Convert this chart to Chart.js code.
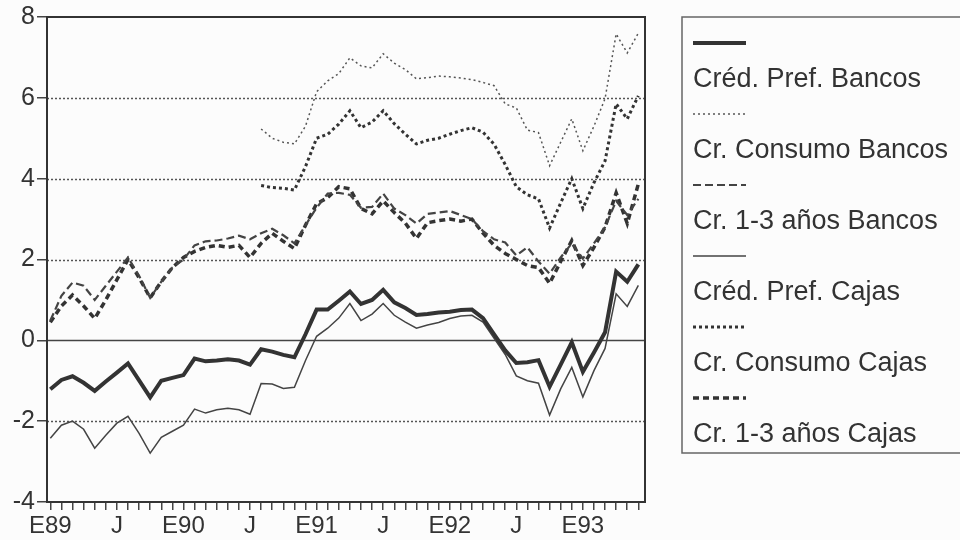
<!DOCTYPE html>
<html lang="es">
<head>
<meta charset="UTF-8" />
<title>Créditos Bancos y Cajas</title>
<script src="https://cdn.jsdelivr.net/npm/chart.js"></script>
<style>
  html, body { margin: 0; padding: 0; background: #fcfcfc; }
  #wrap { width: 960px; height: 540px; }
</style>
</head>
<body>
<div id="wrap"><canvas id="chart" width="960" height="540"></canvas></div>
<script>
// meses desde enero 1989 (0) hasta junio 1993 (53)
const months = Array.from({ length: 54 }, (_, i) => i);
const xTickLabels = ["E89", "J", "E90", "J", "E91", "J", "E92", "J", "E93"];

const prefBancos = [-1.21,-0.98,-0.89,-1.05,-1.25,-1.02,-0.8,-0.57,-0.99,-1.41,
  -1.0,-0.93,-0.86,-0.45,-0.52,-0.5,-0.47,-0.5,-0.6,-0.22,
  -0.28,-0.36,-0.42,0.15,0.76,0.76,0.98,1.21,0.9,1.0,
  1.25,0.94,0.8,0.63,0.65,0.69,0.71,0.75,0.76,0.55,
  0.15,-0.25,-0.56,-0.54,-0.49,-1.15,-0.6,-0.05,-0.78,-0.3,
  0.2,1.7,1.45,1.88];

const consumoBancos = [null,null,null,null,null,null,null,null,null,null,
  null,null,null,null,null,null,null,null,null,5.23,
  5.0,4.9,4.86,5.3,6.15,6.42,6.6,6.99,6.79,6.74,
  7.09,6.86,6.7,6.47,6.5,6.54,6.52,6.49,6.45,6.38,
  6.3,5.85,5.75,5.2,5.14,4.32,4.9,5.48,4.69,5.3,
  5.98,7.58,7.11,7.6];

const anios13Bancos = [0.49,1.1,1.43,1.35,1.0,1.35,1.7,2.05,1.6,1.05,
  1.45,1.8,2.0,2.35,2.45,2.47,2.52,2.59,2.5,2.65,
  2.76,2.6,2.4,2.85,3.28,3.63,3.65,3.6,3.28,3.3,
  3.63,3.26,3.1,2.89,3.13,3.16,3.2,3.1,3.0,2.7,
  2.5,2.42,2.1,2.3,1.95,1.65,2.05,2.4,2.02,2.4,
  2.8,3.45,3.1,3.5];

const prefCajas = [-2.42,-2.1,-2.0,-2.2,-2.67,-2.35,-2.05,-1.88,-2.3,-2.79,
  -2.4,-2.25,-2.1,-1.7,-1.8,-1.72,-1.68,-1.72,-1.83,-1.07,
  -1.08,-1.19,-1.16,-0.5,0.1,0.3,0.55,0.91,0.49,0.65,
  0.91,0.62,0.45,0.3,0.38,0.44,0.54,0.6,0.62,0.45,
  0.05,-0.35,-0.88,-1.0,-1.06,-1.85,-1.2,-0.67,-1.4,-0.75,
  -0.2,1.15,0.84,1.36];

const consumoCajas = [null,null,null,null,null,null,null,null,null,null,
  null,null,null,null,null,null,null,null,null,3.83,
  3.78,3.76,3.72,4.3,5.0,5.1,5.35,5.68,5.26,5.4,
  5.68,5.36,5.1,4.86,4.95,5.0,5.1,5.19,5.26,5.15,
  4.85,4.35,3.8,3.6,3.5,2.78,3.4,4.0,3.26,3.9,
  4.44,5.85,5.48,6.05];

const anios13Cajas = [0.45,0.85,1.12,0.85,0.54,1.0,1.5,2.0,1.55,1.05,
  1.45,1.8,2.05,2.2,2.3,2.35,2.3,2.35,2.05,2.4,
  2.65,2.45,2.27,2.85,3.38,3.53,3.8,3.75,3.26,3.13,
  3.45,3.16,2.9,2.52,2.91,2.96,3.0,2.95,3.0,2.65,
  2.35,2.15,2.0,1.85,1.8,1.41,1.95,2.47,1.85,2.3,
  2.8,3.65,2.89,3.87];

const seriesNames = ["Créd. Pref. Bancos", "Cr. Consumo Bancos", "Cr. 1-3 años Bancos",
  "Créd. Pref. Cajas", "Cr. Consumo Cajas", "Cr. 1-3 años Cajas"];

const ink = "#333";
const FONT = '"Liberation Sans", Arial, sans-serif';

function pts(arr) {
  return months.map(i => ({ x: i, y: arr[i] }));
}

function ds(label, arr, color, width, dash) {
  return {
    label: label,
    data: pts(arr),
    borderColor: color,
    borderWidth: width,
    borderDash: dash,
    pointRadius: 0,
    tension: 0,
    fill: false,
    spanGaps: false
  };
}

// rejilla punteada, línea del cero y marco del gráfico
const framePlugin = {
  id: "frame",
  beforeDatasetsDraw(chart) {
    const { ctx, chartArea: a, scales } = chart;
    ctx.save();
    ctx.strokeStyle = "#555";
    ctx.lineWidth = 1.5;
    ctx.setLineDash([2, 2]);
    [6, 4, 2, -2].forEach(v => {
      const y = Math.round(scales.y.getPixelForValue(v)) + 0.5;
      ctx.beginPath();
      ctx.moveTo(a.left, y);
      ctx.lineTo(a.right, y);
      ctx.stroke();
    });
    ctx.setLineDash([]);
    ctx.strokeStyle = "#444";
    const y0 = Math.round(scales.y.getPixelForValue(0)) + 0.5;
    ctx.beginPath();
    ctx.moveTo(a.left, y0);
    ctx.lineTo(a.right, y0);
    ctx.stroke();
    ctx.restore();
  },
  afterDatasetsDraw(chart) {
    const { ctx, chartArea: a } = chart;
    ctx.save();
    ctx.strokeStyle = ink;
    ctx.lineWidth = 2;
    ctx.strokeRect(a.left, a.top, a.right - a.left, a.bottom - a.top);
    ctx.restore();
  }
};

// leyenda en recuadro: muestra de línea encima de cada nombre
const legendPlugin = {
  id: "boxLegend",
  afterDraw(chart) {
    const ctx = chart.ctx;
    ctx.save();
    ctx.strokeStyle = "#666";
    ctx.lineWidth = 1.5;
    ctx.strokeRect(682, 17, 320, 436);
    chart.data.datasets.forEach((d, k) => {
      const ly = 43 + 71 * k;
      ctx.strokeStyle = d.borderColor;
      ctx.lineWidth = d.borderWidth;
      ctx.setLineDash(d.borderDash || []);
      ctx.beginPath();
      ctx.moveTo(693, ly);
      ctx.lineTo(746, ly);
      ctx.stroke();
      ctx.setLineDash([]);
      ctx.fillStyle = ink;
      ctx.font = "27px " + FONT;
      ctx.textBaseline = "middle";
      ctx.textAlign = "left";
      ctx.fillText(d.label, 693, 80 + 71 * k);
    });
    ctx.restore();
  }
};

new Chart(document.getElementById("chart"), {
  type: "line",
  data: {
    datasets: [
      ds(seriesNames[0], prefBancos, "#333", 4, []),
      ds(seriesNames[1], consumoBancos, "#555", 1.5, [2, 3]),
      ds(seriesNames[2], anios13Bancos, "#444", 2.2, [8, 4]),
      ds(seriesNames[3], prefCajas, "#444", 1.5, []),
      ds(seriesNames[4], consumoCajas, "#333", 3, [3, 3]),
      ds(seriesNames[5], anios13Cajas, "#333", 3.5, [6, 4])
    ]
  },
  options: {
    responsive: false,
    animation: false,
    layout: { padding: { top: 16, right: 315, left: 0, bottom: 0 } },
    plugins: { legend: { display: false }, tooltip: { enabled: false } },
    scales: {
      x: {
        type: "linear",
        min: -0.3,
        max: 53.6,
        afterBuildTicks: axis => { axis.ticks = months.map(i => ({ value: i })); },
        afterFit: axis => { axis.height = 38; },
        grid: { drawOnChartArea: false, drawTicks: true, tickLength: 8, color: "#444", lineWidth: 1.5 },
        border: { display: false },
        ticks: {
          autoSkip: false,
          maxRotation: 0,
          padding: 2,
          color: ink,
          font: { family: FONT, size: 24 },
          callback: v => (v % 6 === 0 ? xTickLabels[v / 6] : "")
        }
      },
      y: {
        min: -4,
        max: 8,
        afterFit: axis => { axis.width = 47; },
        grid: { drawOnChartArea: false, drawTicks: true, tickLength: 10, color: "#444", lineWidth: 1.5 },
        border: { display: false },
        ticks: {
          stepSize: 2,
          padding: 2,
          color: ink,
          font: { family: FONT, size: 25 }
        }
      }
    }
  },
  plugins: [framePlugin, legendPlugin]
});
</script>
</body>
</html>
